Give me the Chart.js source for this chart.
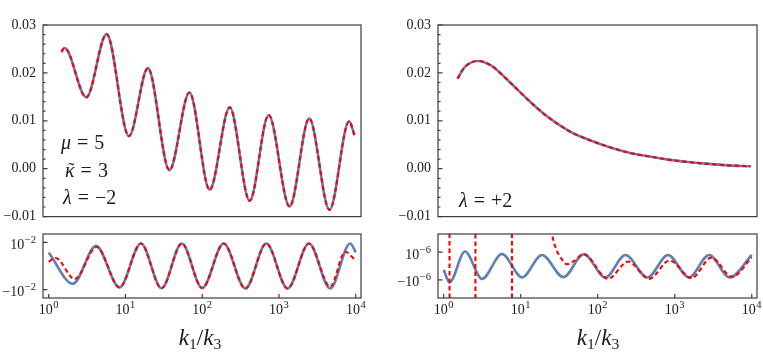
<!DOCTYPE html>
<html>
<head>
<meta charset="utf-8">
<script src="https://cdn.jsdelivr.net/npm/chart.js@4.4.1/dist/chart.umd.min.js"></script>
<style>
    body { margin: 0; width: 763px; height: 355px; position: relative; background: #fff; overflow: hidden;
           font-family: "Liberation Serif", "Times New Roman", serif; color: #1a1a1a; }
    canvas { position: absolute; }
    .note { position: absolute; font-size: 20px; line-height: 1; white-space: nowrap; word-spacing: 1px; }
    .kt { position: relative; display: inline-block; }
    .kt .tilde { position: absolute; left: 3px; top: 0; font-style: normal; }
    .xt { position: absolute; width: 100px; text-align: center; font-size: 23px; line-height: 1; white-space: nowrap; }
    .xt sub { font-size: 68%; vertical-align: -0.28em; line-height: 0; font-style: normal; }
</style>
</head>
<body>
<canvas id="tl" width="380" height="232" style="left:0;top:0"></canvas>
<canvas id="tr" width="383" height="232" style="left:380px;top:0"></canvas>
<canvas id="bl" width="380" height="127" style="left:0;top:228px"></canvas>
<canvas id="br" width="383" height="127" style="left:380px;top:228px"></canvas>

<div class="note" style="left:61px;top:132px"><i>μ</i> = 5</div>
<div class="note" style="left:65px;top:160px"><span class="kt"><i>κ</i><span class="tilde">˜</span></span> = 3</div>
<div class="note" style="left:63px;top:187px"><i>λ</i> = −2</div>
<div class="note" style="left:459px;top:190px"><i>λ</i> = +2</div>

<div class="xt" style="left:150px;top:326px"><i>k</i><sub>1</sub>/<i>k</i><sub>3</sub></div>
<div class="xt" style="left:548px;top:326px"><i>k</i><sub>1</sub>/<i>k</i><sub>3</sub></div>

<script>
// --- DATA ---
// upper left, lambda = -2 : k1/k3 and value (both curves coincide)
const tlK = [1.46, 1.61, 3.09, 5.68, 11.1, 19.6, 37.4, 68.2, 125, 228, 415, 733, 1374, 2477, 4550, 8200, 9620];
const tlY = [0.0244, 0.0252, 0.0149, 0.0281, 0.0068, 0.0210, -0.0003, 0.0159, -0.0044, 0.0128,
             -0.0067, 0.0112, -0.0079, 0.0105, -0.0086, 0.0099, 0.0070];

// upper right, lambda = +2
const trK = [1.51, 1.87, 2.79, 4.16, 6.19, 9.23, 13.8, 20.5, 30.5, 45.5, 74.8, 136, 248, 450, 818, 1489, 2710, 4920, 9700];
const trY = [0.0188, 0.0212, 0.0225, 0.0215, 0.0191, 0.0164, 0.0137, 0.0113, 0.0093, 0.0076,
             0.0061, 0.0046, 0.0034, 0.0026, 0.0019, 0.0014, 0.0010, 0.0007, 0.0005];

// lower panels: symmetric-log residual, given in tick units (+-1 = the labelled ticks)
const blK = [1.0, 2.07, 4.13, 8.38, 15.9, 29.5, 54.2, 100, 190, 365, 684, 1294, 2455, 4645, 8455, 10000];
const blBlue = [0.57, -0.75, 0.85, -0.90, 0.95, -0.94, 0.95, -0.93, 0.95, -0.95, 0.95, -0.95, 0.95, -0.95, 0.95, 0.58];
const blRedK = [1.0, 1.23, 2.18, 4.21, 8.38, 15.9, 29.5, 54.2, 100, 190, 365, 684, 1294, 2455, 4645, 7300, 10000];
const blRed = [0.18, 0.34, -0.55, 0.80, -0.90, 0.95, -0.94, 0.95, -0.93, 0.95, -0.95, 0.95, -0.95, 0.95, -0.87, 0.60, 0.22];

const brK = [1.0, 1.19, 1.89, 3.15, 5.71, 10.4, 18.9, 35.8, 65.8, 126, 229, 442, 818, 1535, 2790, 5180, 10000];
const brBlue = [-0.28, -1.19, 1.05, -0.93, 0.87, -0.83, 0.80, -0.81, 0.85, -0.83, 0.80, -0.83, 0.80, -0.83, 0.80, -0.83, 0.80];
// red one blows up three times near the start (null = break in the line)
const brRedK = [1.17, 1.21, 1.21, 2.56, 2.60, 2.60, 7.65, 7.75, 7.75,
                23.1, 28.5, 34.1, 39.6, 48.8, 65.8, 136, 248, 464, 861, 1648, 2998, 5546, 10000];
const brRed = [60, -60, null, -60, 60, null, 60, -60, null,
               3.2, 1.3, 0.5, 0.13, 0.35, 0.86, -0.93, 0.32, -0.93, 0.40, -0.88, 0.61, -0.79, 0.62];

// ticks
const decades = [1, 10, 100, 1000, 10000];
const decadeExp = ['0', '1', '2', '3', '4'];
const topTicks = [-0.01, 0, 0.01, 0.02, 0.03];
const topTickLabels = ['−0.01', '0.00', '0.01', '0.02', '0.03'];
const lowTicks = [-1, 1];
const lowTickBase = ['−10', '10'];
const blTickExp = ['−2', '−2'];
const brTickExp = ['−6', '−6'];

const X_MIN = 0.843, X_MAX = 11700;
const BLUE = '#5E81B5', RED = '#FF0000';
const FONT = '"Liberation Serif", "Times New Roman", serif';

Chart.defaults.font.family = FONT;
Chart.defaults.color = '#1a1a1a';

const pts = (ks, ys) => ks.map((k, i) => ({ x: k, y: ys[i] }));

// minor ticks of the upper panels, 5 per 0.01
const topMinor = [];
for (let i = 0; i < topTicks.length - 1; i++) {
    for (let j = 1; j < 5; j++) topMinor.push(topTicks[i] + j * 0.002);
}

// "10" with a raised exponent; align = 'center' or 'right', y = baseline
function drawPower(ctx, base, exp, x, y, align) {
    ctx.font = '14px ' + FONT;
    const wb = ctx.measureText(base).width;
    ctx.font = '10.5px ' + FONT;
    const we = ctx.measureText(exp).width;
    const w = wb + 0.5 + we;
    const x0 = align === 'right' ? x - w : x - w / 2;
    ctx.textAlign = 'left';
    ctx.textBaseline = 'alphabetic';
    ctx.font = '14px ' + FONT;
    ctx.fillText(base, x0, y);
    ctx.font = '10.5px ' + FONT;
    ctx.fillText(exp, x0 + wb + 0.5, y - 6);
}

// full frame + inward tick marks (Mathematica style), power-of-ten labels
const framePlugin = {
    id: 'frame',
    afterDraw(chart, args, opts) {
        const { ctx, chartArea: a } = chart;
        const y = chart.scales.y, x = chart.scales.x;
        ctx.save();
        ctx.strokeStyle = '#3c3c3c';
        ctx.lineWidth = 1.2;
        ctx.beginPath();
        y.ticks.forEach(t => {
            const py = y.getPixelForValue(t.value);
            ctx.moveTo(a.left, py); ctx.lineTo(a.left + 4.5, py);
        });
        (opts.minor || []).forEach(v => {
            const py = y.getPixelForValue(v);
            ctx.moveTo(a.left, py); ctx.lineTo(a.left + 2.5, py);
        });
        if (opts.xTicks) {
            decades.forEach(v => {
                const px = x.getPixelForValue(v);
                ctx.moveTo(px, a.bottom); ctx.lineTo(px, a.bottom - 4);
            });
        }
        ctx.stroke();
        ctx.strokeRect(a.left, a.top, a.right - a.left, a.bottom - a.top);

        ctx.fillStyle = '#1a1a1a';
        if (opts.xTicks) {
            decades.forEach((v, i) => drawPower(ctx, '10', decadeExp[i], x.getPixelForValue(v), a.bottom + 16.3, 'center'));
        }
        if (opts.yExp) {
            lowTicks.forEach((v, i) => drawPower(ctx, lowTickBase[i], opts.yExp[i], a.left - 7, y.getPixelForValue(v) + 6.5, 'right'));
        }
        ctx.restore();
    }
};

function blueSet(data) {
    return { data, borderColor: BLUE, borderWidth: 2.6, pointRadius: 0, cubicInterpolationMode: 'monotone', fill: false };
}
function redSet(data) {
    return { data, borderColor: RED, borderWidth: 2.1, borderDash: [4.5, 3], pointRadius: 0,
             cubicInterpolationMode: 'monotone', fill: false, spanGaps: false };
}

function makePanel(id, cfg) {
    return new Chart(document.getElementById(id), {
        type: 'line',
        // red first so it is drawn on top of the blue one
        data: { datasets: [redSet(cfg.red), blueSet(cfg.blue)] },
        options: {
            responsive: false,
            animation: false,
            events: [],
            layout: { padding: cfg.padding },
            plugins: { legend: { display: false }, tooltip: { enabled: false }, frame: cfg.frame },
            scales: {
                x: {
                    type: 'logarithmic', min: X_MIN, max: X_MAX, display: cfg.showX,
                    grid: { display: false, drawTicks: false }, border: { display: false },
                    afterBuildTicks: s => { s.ticks = decades.map(v => ({ value: v })); },
                    afterFit: s => { if (cfg.xHeight) s.height = cfg.xHeight; },
                    ticks: { display: false }
                },
                y: {
                    type: 'linear', min: cfg.yMin, max: cfg.yMax,
                    grid: { display: false, drawTicks: false }, border: { display: false },
                    afterBuildTicks: s => { s.ticks = cfg.yTicks.map(v => ({ value: v })); },
                    afterFit: s => { s.width = cfg.yWidth; },
                    ticks: { display: !!cfg.yLabels, autoSkip: false, padding: 7, font: { size: 14 },
                             callback: (v, i) => cfg.yLabels ? cfg.yLabels[i] : '' }
                }
            }
        },
        plugins: [framePlugin]
    });
}

makePanel('tl', {
    blue: pts(tlK, tlY), red: pts(tlK, tlY),
    padding: { top: 25, right: 19, bottom: 10, left: 0 },
    showX: false, yMin: -0.01, yMax: 0.03, yTicks: topTicks, yLabels: topTickLabels, yWidth: 43,
    frame: { minor: topMinor }
});
makePanel('tr', {
    blue: pts(trK, trY), red: pts(trK, trY),
    padding: { top: 25, right: 6, bottom: 10, left: 0 },
    showX: false, yMin: -0.01, yMax: 0.03, yTicks: topTicks, yLabels: topTickLabels, yWidth: 58,
    frame: { minor: topMinor }
});
makePanel('bl', {
    blue: pts(blK, blBlue), red: pts(blRedK, blRed),
    padding: { top: 6, right: 19, bottom: 0, left: 0 },
    showX: true, xHeight: 57, yMin: -1.35, yMax: 1.35, yTicks: lowTicks, yWidth: 43,
    frame: { xTicks: true, yExp: blTickExp }
});
makePanel('br', {
    blue: pts(brK, brBlue), red: pts(brRedK, brRed),
    padding: { top: 6, right: 6, bottom: 0, left: 0 },
    showX: true, xHeight: 57, yMin: -2.32, yMax: 2.32, yTicks: lowTicks, yWidth: 58,
    frame: { xTicks: true, yExp: brTickExp }
});
</script>
</body>
</html>
